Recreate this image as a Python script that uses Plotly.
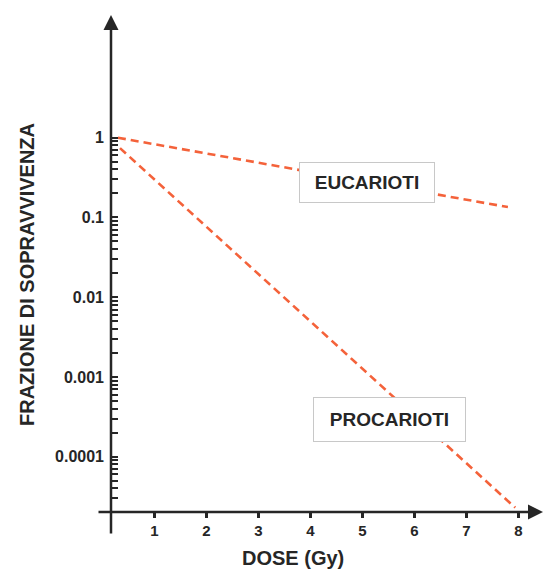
import plotly.graph_objects as go

# Data
dose_euc = [0.30, 7.80]
surv_euc = [1.0, 0.135]
dose_pro = [0.34, 7.94]
surv_pro = [0.74, 2.3e-5]

x_tickvals = [1, 2, 3, 4, 5, 6, 7, 8]
x_ticktext = ["1", "2", "3", "4", "5", "6", "7", "8"]
y_tickvals = [1, 0.1, 0.01, 0.001, 0.0001]
y_ticktext = ["1", "0.1", "0.01", "0.001", "0.0001"]
y_minor = [m * 10.0 ** e for e in range(-5, 0) for m in range(2, 10)]

FONT = "Liberation Sans, Arial, sans-serif"
TXT = "#262626"
LINE = "#F4623A"

fig = go.Figure()
fig.add_trace(go.Scatter(x=dose_euc, y=surv_euc, mode="lines",
                         line=dict(color=LINE, width=2.6, dash="8px,5px"),
                         showlegend=False, hoverinfo="skip"))
fig.add_trace(go.Scatter(x=dose_pro, y=surv_pro, mode="lines",
                         line=dict(color=LINE, width=2.6, dash="8px,5px"),
                         showlegend=False, hoverinfo="skip"))

fig.update_layout(
    width=544, height=574,
    margin=dict(l=111, r=4, t=15, b=62, autoexpand=False),
    paper_bgcolor="white", plot_bgcolor="white",
    font=dict(family=FONT, color=TXT),
    xaxis=dict(range=[0.167, 8.417], tickmode="array", tickvals=x_tickvals,
               ticktext=x_ticktext, ticks="outside", ticklen=5, tickwidth=2.5,
               tickcolor=TXT, showgrid=False, zeroline=False, showline=False,
               automargin=False,
               tickfont=dict(size=15, family=FONT, color=TXT, weight="bold")),
    yaxis=dict(type="log", range=[-4.693, 1.539], tickmode="array",
               tickvals=y_tickvals, ticktext=y_ticktext, ticks="inside",
               ticklen=7, tickwidth=2.2, tickcolor=TXT, showgrid=False,
               zeroline=False, showline=False, automargin=False,
               ticklabelstandoff=6,
               tickfont=dict(size=16, family=FONT, color=TXT, weight="bold"),
               minor=dict(tickmode="array", tickvals=y_minor, ticks="inside",
                          ticklen=7, tickwidth=2, tickcolor=TXT, showgrid=False)),
)

# axis lines with arrows
fig.add_annotation(x=0, y=1, xref="paper", yref="paper", ax=0, ay=520,
                   axref="pixel", ayref="pixel", text="", showarrow=True,
                   arrowhead=2, arrowsize=1.2, arrowwidth=2.5, arrowcolor=TXT)
fig.add_annotation(x=(543 - 111) / 429, y=0, xref="paper", yref="paper",
                   ax=-446, ay=0, axref="pixel", ayref="pixel", text="",
                   showarrow=True, arrowhead=2, arrowsize=1.2, arrowwidth=2.5,
                   arrowcolor=TXT)

# axis titles
fig.add_annotation(x=(293 - 111) / 429, y=(512 - 558) / 497, xref="paper",
                   yref="paper", xanchor="center", yanchor="middle",
                   text="DOSE (Gy)", showarrow=False,
                   font=dict(size=20, family=FONT, color=TXT, weight="bold"))
fig.add_annotation(x=(27 - 111) / 429, y=(512 - 275) / 497, xref="paper",
                   yref="paper", xanchor="center", yanchor="middle",
                   text="FRAZIONE DI SOPRAVVIVENZA", textangle=-90,
                   showarrow=False,
                   font=dict(size=20, family=FONT, color=TXT, weight="bold"))

# labels in boxes
fig.add_annotation(x=(367 - 111) / 429, y=(512 - 182.5) / 497, xref="paper",
                   yref="paper", xanchor="center", yanchor="middle",
                   text="EUCARIOTI", showarrow=False,
                   font=dict(size=19, family=FONT, color=TXT, weight="bold"),
                   bgcolor="white", bordercolor="#c8c8c8", borderwidth=1,
                   width=132, height=37)
fig.add_annotation(x=(389.5 - 111) / 429, y=(512 - 419.5) / 497, xref="paper",
                   yref="paper", xanchor="center", yanchor="middle",
                   text="PROCARIOTI", showarrow=False,
                   font=dict(size=19, family=FONT, color=TXT, weight="bold"),
                   bgcolor="white", bordercolor="#c8c8c8", borderwidth=1,
                   width=149, height=41)

fig.write_html("out.html", config={"displayModeBar": False},
               post_script="document.body.style.margin='0';"
                           "document.body.style.padding='0';")
